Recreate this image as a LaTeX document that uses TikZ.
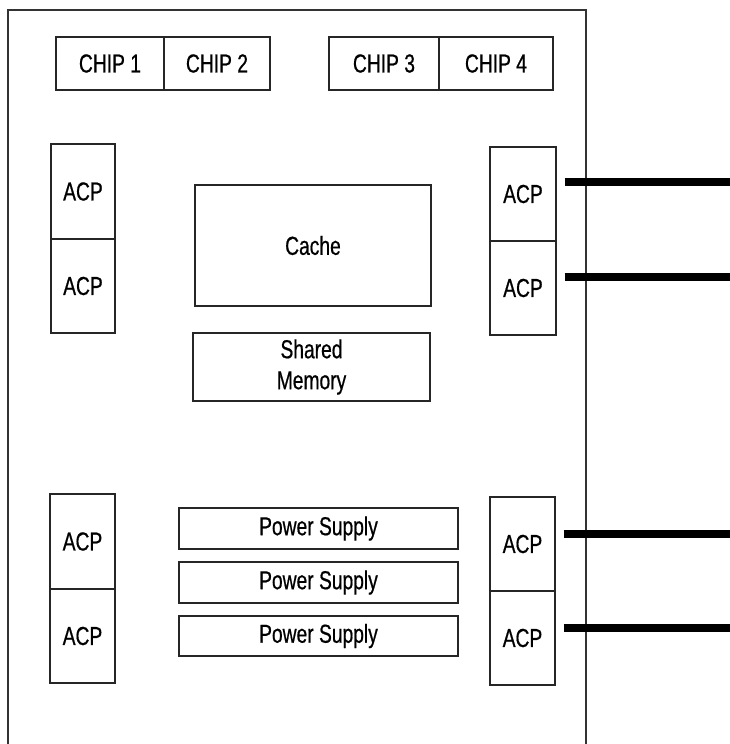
\documentclass[tikz,border=0pt]{standalone}
\usepackage{fontspec}
\setmainfont{Liberation Sans}[FakeStretch=0.74,FakeBold=0.6]
\begin{document}
\begin{tikzpicture}[x=1pt,y=-1pt,
  box/.style={draw=black!85, line width=1.2pt, inner sep=0pt, font=\fontsize{26}{31}\selectfont, align=center},
  link/.style={line width=8pt, black}]
\useasboundingbox (0,0) rectangle (730,744);
% outer frame (open at bottom)
\draw[line width=1.5pt, black!80] (8,744) -- (8,10) -- (586,10) -- (586,744);
% chips
\node[box, minimum width=108pt, minimum height=53pt] (c1) at (110,63.5) {CHIP 1};
\node[box, minimum width=106pt, minimum height=53pt] (c2) at (217,63.5) {CHIP 2};
\node[box, minimum width=110pt, minimum height=53pt] (c3) at (384,63.5) {CHIP 3};
\node[box, minimum width=114pt, minimum height=53pt] (c4) at (496,63.5) {CHIP 4};
% left ACPs upper
\node[box, minimum width=64pt, minimum height=95pt] (lu1) at (83,191.5) {ACP};
\node[box, minimum width=64pt, minimum height=94pt] (lu2) at (83,286) {ACP};
% right ACPs upper
\node[box, minimum width=66pt, minimum height=94pt] (ru1) at (523,194) {ACP};
\node[box, minimum width=66pt, minimum height=94pt] (ru2) at (523,288) {ACP};
% cache and shared memory
\node[box, minimum width=236pt, minimum height=121pt] (cache) at (313,245.5) {Cache};
\node[box, minimum width=237pt, minimum height=68pt] (shm) at (311.5,367) {Shared\\Memory};
% left ACPs lower
\node[box, minimum width=65pt, minimum height=95pt] (ll1) at (82.5,541.5) {ACP};
\node[box, minimum width=65pt, minimum height=94pt] (ll2) at (82.5,636) {ACP};
% right ACPs lower
\node[box, minimum width=65pt, minimum height=94pt] (rl1) at (522.5,544) {ACP};
\node[box, minimum width=65pt, minimum height=94pt] (rl2) at (522.5,638) {ACP};
% power supplies
\node[box, minimum width=279pt, minimum height=41pt] (p1) at (318.5,528.5) {Power Supply};
\node[box, minimum width=279pt, minimum height=41pt] (p2) at (318.5,582.5) {Power Supply};
\node[box, minimum width=279pt, minimum height=40pt] (p3) at (318.5,636) {Power Supply};
% external links
\coordinate (e1) at (730,182);
\coordinate (e2) at (730,277);
\coordinate (e3) at (730,534);
\coordinate (e4) at (730,628);
\draw[link] (ru1.east |- e1) ++(8,0) -- (e1);
\draw[link] (ru2.east |- e2) ++(8,0) -- (e2);
\draw[link] (rl1.east |- e3) ++(8,0) -- (e3);
\draw[link] (rl2.east |- e4) ++(8,0) -- (e4);
\end{tikzpicture}
\end{document}
